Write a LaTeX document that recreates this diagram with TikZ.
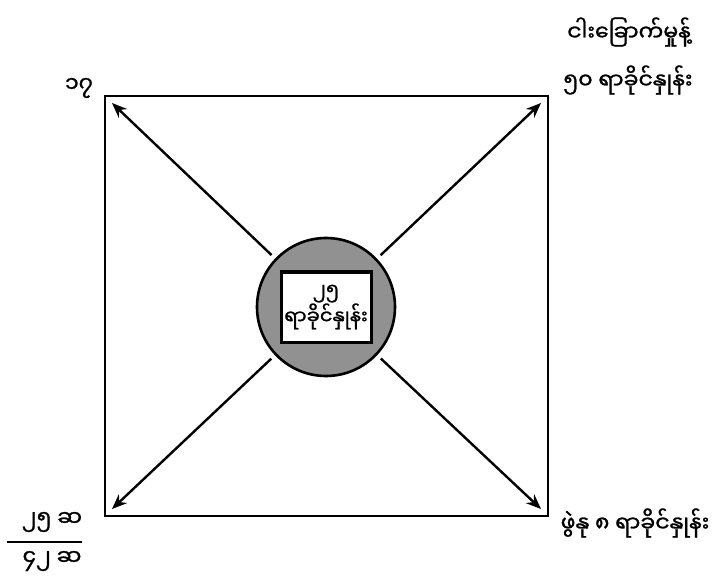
\documentclass[tikz,border=0pt]{standalone}
\usepackage{fontspec}
\newfontfamily\mmfont[Script=Myanmar, FakeBold=1.2]{Noto Sans Myanmar UI}
\usetikzlibrary{arrows.meta}

\tikzset{
  mmtext/.style={font=\mmfont\fontsize{22}{26}\selectfont, inner sep=0pt},
  arr/.style={->, line width=2.4pt, shorten <=5pt},
}

\begin{document}
\begin{tikzpicture}[x=1pt, y=-1pt, >={Stealth[length=15pt,width=12pt]}]
  \useasboundingbox (0,0) rectangle (717,585);

  % outer square
  \draw[line width=2.8pt] (105,96) rectangle (548,516);

  % centre
  \node[circle, draw, line width=2.6pt, fill=black!43, minimum size=138pt,
        inner sep=0pt] (mix) at (326,307) {};
  \node[draw, line width=3pt, fill=white, minimum width=90pt,
        minimum height=70pt, inner sep=0pt, align=center,
        font=\mmfont\fontsize{19.5}{25}\selectfont] (box) at (mix)
        {၂၅\\ရာခိုင်နှုန်း};

  \coordinate (TL) at (112,103);
  \coordinate (TR) at (541,103);
  \coordinate (BL) at (112,509);
  \coordinate (BR) at (541,509);

  \draw[arr] (mix) -- (TL);
  \draw[arr] (mix) -- (TR);
  \draw[arr] (mix) -- (BL);
  \draw[arr] (mix) -- (BR);

  % labels
  \node[mmtext] (fisha) at (629,32) {ငါးခြောက်မှုန့်};
  \node[mmtext] (fishb) at (628,80) {၅၀ ရာခိုင်နှုန်း};
  \node[mmtext] (parta) at (79,88) {၁၇};
  \node[mmtext] (bran) at (635,523) {ဖွဲနု ၈ ရာခိုင်နှုန်း};
  \node[mmtext] (partb) at (52,522) {၂၅ ဆ};
  \node[mmtext] (total) at (52,561) {၄၂ ဆ};
  \draw[line width=2.5pt] (7,542) -- (82,542);
\end{tikzpicture}
\end{document}
